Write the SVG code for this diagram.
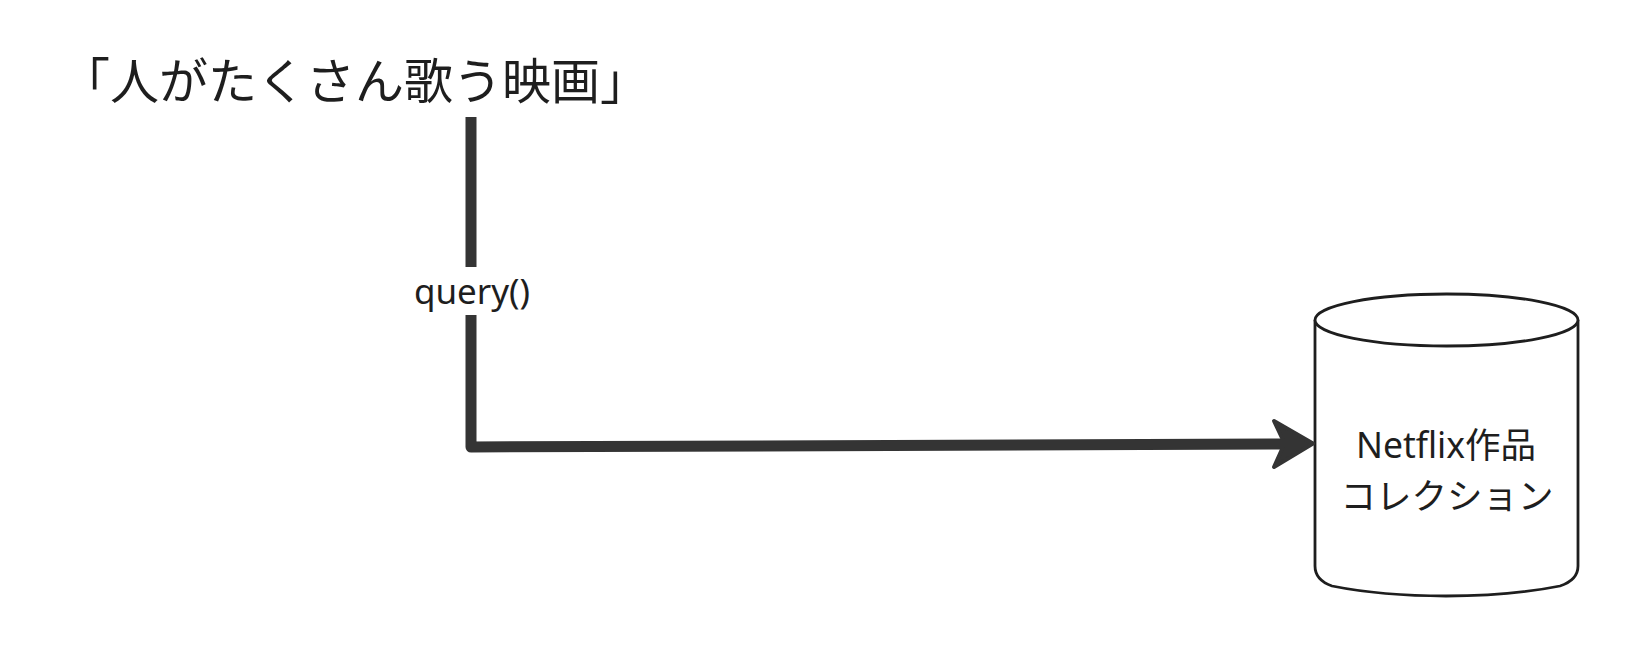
<svg xmlns="http://www.w3.org/2000/svg" width="1632" height="656" viewBox="0 0 1632 656">
<style>
.t{font-family:"Noto Sans","Noto Sans CJK JP",sans-serif;fill:#1e1e1e}
.edge{fill:none;stroke:#343434;stroke-width:11;stroke-linejoin:round;stroke-linecap:butt}
.shape{fill:#fff;stroke:#1e1e1e;stroke-width:2.8}
</style>
<rect x="0" y="0" width="1632" height="656" fill="#fff"/>
<g id="query-text">
<text class="t" x="61" y="99" font-size="49">「人がたくさん歌う映画」</text>
</g>
<g id="netflix-collection">
<path class="shape" d="M1315,320 L1315,566 Q1315,580 1332,586 Q1382,596 1446,596 Q1510,596 1560,586 Q1578,580 1578,566 L1578,320"/>
<ellipse class="shape" cx="1446.5" cy="320" rx="131.5" ry="26"/>
<text class="t" font-size="35.5" text-anchor="middle"><tspan x="1446" y="458">Netflix作品</tspan><tspan x="1447" y="509">コレクション</tspan></text>
</g>
<g id="connectors">
<path class="edge" d="M471,117 L471,267"/>
<path class="edge" d="M471,315 L471,447 L1285,444"/>
<path d="M1274,421 L1313,443.5 L1274,467 L1283,447 L1283,440 Z" fill="#343434" stroke="#343434" stroke-width="4" stroke-linejoin="round"/>
<text class="t" x="472" y="304" font-size="35" text-anchor="middle">query()</text>
</g>
</svg>
